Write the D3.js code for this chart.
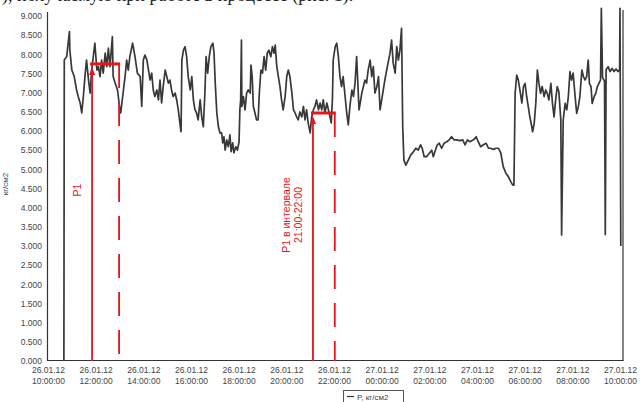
<!DOCTYPE html>
<html lang="ru">
<head>
<meta charset="UTF-8">
<title>P, кг/см2</title>
<script src="https://d3js.org/d3.v7.min.js"></script>
<style>
  body { margin: 0; background: #fff; }
  svg { display: block; font-family: "Liberation Sans", Arial, sans-serif; }
</style>
</head>
<body>
<script>
// pressure trace, minutes after 26.01.12 10:00:00
var minutes = [40,41,47,54,55,60,66,72,76,81,85,89,93,97,102,106,110,118,123,127,131,135,139,144,148,152,156,162,164,169,175,180,183,188,194,198,202,206,213,219,225,232,236,240,244,249,253,257,261,265,269,274,278,282,286,290,295,299,303,307,311,315,320,324,328,332,335,337,341,345,349,353,358,362,366,370,374,378,383,387,391,395,398,402,406,410,415,418,421,425,429,433,437,440,443,446,450,454,458,461,465,468,473,477,481,483,485,487,488,492,496,500,504,509,511,514,517,521,525,529,532,536,540,544,548,552,556,561,565,569,572,576,580,584,588,592,597,601,605,609,614,618,622,626,630,634,639,643,647,651,655,660,664,668,672,676,681,685,689,693,697,702,706,710,713,716,718,723,727,731,735,739,743,748,752,756,760,765,769,773,777,780,783,786,790,794,798,802,806,811,815,819,823,828,832,836,843,848,856,861,865,869,874,878,882,886,890,893,896,901,907,913,920,926,932,938,942,947,953,960,966,970,974,980,985,991,997,1004,1010,1016,1022,1029,1037,1044,1050,1056,1062,1071,1078,1083,1089,1096,1103,1109,1115,1121,1128,1134,1140,1146,1153,1159,1165,1170,1173,1176,1180,1184,1188,1193,1197,1201,1205,1209,1213,1218,1220,1224,1228,1232,1236,1240,1244,1249,1253,1257,1261,1266,1270,1274,1278,1282,1286,1291,1293,1297,1302,1306,1310,1314,1318,1322,1327,1331,1335,1339,1344,1348,1352,1356,1360,1363,1367,1370,1375,1379,1383,1387,1391,1393,1396,1401,1403,1405,1410,1415,1420,1425,1430,1435,1439,1440,1442];
var pressure = [0,7.85,7.94,8.59,8.11,7.59,7.42,7.07,6.9,6.73,6.47,6.9,7.42,7.85,7.33,6.99,7.59,8.29,7.59,7.68,7.42,7.85,7.51,8.03,7.68,8.16,7.68,8.46,7.42,7.25,7.07,6.64,6.47,6.9,7.42,7.85,7.59,7.94,8.29,7.94,7.51,7.42,6.64,7.85,7.98,7.85,7.59,7.33,7.51,7.07,6.9,7.07,6.81,7.33,6.73,7.16,7.59,7.42,7.25,7.33,7.07,6.9,6.99,6.81,6.55,6.21,5.98,7.85,8.11,8.2,7.94,7.42,7.07,7.42,6.81,6.55,6.47,6.29,6.81,6.37,6.11,6.99,7.94,7.51,7.94,8.2,8.29,8.03,7.25,6.47,6.11,5.95,5.95,5.69,5.85,5.5,5.77,5.59,5.9,5.46,5.69,5.43,5.59,5.5,5.72,6.55,6.81,8.37,6.64,6.9,6.55,6.99,7.07,6.99,7.72,7.42,6.64,6.47,6.29,6.29,6.99,7.59,7.51,7.94,7.59,8.03,8.11,7.94,8.2,8.03,8.24,7.68,7.42,7.16,6.81,6.55,6.9,7.42,7.59,7.42,6.99,6.55,6.47,6.37,6.29,6.5,6.37,6.64,6.29,6.55,6.21,5.95,6.37,6.55,6.64,6.81,6.55,6.73,6.55,6.81,6.47,6.73,6.55,6.37,6.21,6.81,7.85,8.2,8.29,7.94,7.42,7.16,7.42,6.9,6.47,6.16,6.64,7.07,6.9,7.25,7.94,7.25,6.55,6.73,6.99,7.16,7.33,7.25,7.59,7.85,7.42,7.68,6.99,7.16,7.42,6.55,7.0,7.33,7.77,8.03,8.37,7.77,7.51,8.2,7.85,8.11,8.68,6.11,5.24,5.11,5.24,5.37,5.46,5.55,5.5,5.64,5.55,5.33,5.33,5.42,5.5,5.33,5.46,5.64,5.68,5.55,5.68,5.72,5.77,5.85,5.77,5.77,5.75,5.77,5.64,5.77,5.72,5.77,5.85,5.72,5.59,5.64,5.68,5.55,5.55,5.52,5.55,5.55,5.42,5.07,4.89,4.81,4.68,4.59,4.59,6.98,7.46,7.33,7.07,6.73,7.16,7.24,6.9,6.64,6.37,6.11,5.98,6.2,6.72,7.59,7.24,6.98,7.16,6.9,7.07,6.98,6.81,7.24,6.72,6.37,6.81,7.16,7.03,6.29,3.29,6.29,6.72,6.55,6.9,7.55,7.33,7.51,6.9,6.46,6.63,6.9,7.59,7.42,7.33,7.42,7.85,7.24,7.16,6.72,6.9,6.98,7.16,7.24,7.33,9.2,7.4,7.3,3.3,7.6,7.68,7.55,7.63,7.55,7.62,7.55,7.6,9.2,3.0];

var yTicks = [0,0.5,1,1.5,2,2.5,3,3.5,4,4.5,5,5.5,6,6.5,7,7.5,8,8.5,9];
var xTickDates = ["26.01.12","26.01.12","26.01.12","26.01.12","26.01.12","26.01.12","26.01.12","27.01.12","27.01.12","27.01.12","27.01.12","27.01.12","27.01.12"];
var xTickTimes = ["10:00:00","12:00:00","14:00:00","16:00:00","18:00:00","20:00:00","22:00:00","00:00:00","02:00:00","04:00:00","06:00:00","08:00:00","10:00:00"];

// red marks: P1 and P1 for 21:00-22:00 (minutes after start, level)
var markStart = [111, 667];
var markEnd = [179, 722];
var markLevel = [7.75, 6.47];
var markLabels = [["P1"], ["P1 в интервале", "21:00-22:00"]];

var width = 641, height = 402;
var red = "#e8141c";
var t0 = new Date(2012, 0, 26, 10, 0, 0);
function tm(m) { return d3.timeMinute.offset(t0, m); }

var svg = d3.select("body").append("svg")
    .attr("width", width)
    .attr("height", height);

var x = d3.scaleTime().domain([t0, d3.timeHour.offset(t0, 24)]).range([48, 620]);
var y = d3.scaleLinear().domain([0, 9]).range([361, 16]);

// cut-off line of text above the figure (only its lower part is in the picture)
svg.append("text")
    .attr("x", 2).attr("y", 1)
    .style("font-family", "'Liberation Serif', serif")
    .style("font-size", "18px")
    .attr("fill", "#222")
    .text("), получаемую при работе в процессе (рис. 1).");

// frame
var frame = svg.append("g").attr("stroke", "#333").attr("stroke-width", 1.2);
frame.append("line").attr("x1", 47.5).attr("x2", 47.5).attr("y1", 12).attr("y2", 361);
frame.append("line").attr("x1", 47).attr("x2", 623.5).attr("y1", 360.5).attr("y2", 360.5);
frame.append("line").attr("x1", 623).attr("x2", 623).attr("y1", 10).attr("y2", 361);

// y axis
var yAxis = svg.append("g")
    .attr("transform", "translate(48,0)")
    .call(d3.axisLeft(y).tickValues(yTicks).tickFormat(d3.format(".3f")).tickSize(0).tickPadding(6));
yAxis.select(".domain").remove();
yAxis.selectAll("text").attr("fill", "#444").style("font-size", "8.5px");

// x axis, two-line labels
var xAxis = svg.append("g")
    .attr("transform", "translate(0,361)")
    .call(d3.axisBottom(x)
        .tickValues(xTickDates.map(function (d, i) { return d3.timeHour.offset(t0, 2 * i); }))
        .tickSize(0).tickSizeOuter(0).tickFormat(""));
xAxis.select(".domain").remove();
xAxis.selectAll(".tick text").each(function (d, i) {
    var t = d3.select(this).text(null).attr("dy", null).attr("fill", "#444").style("font-size", "8.5px");
    t.append("tspan").attr("x", 0).attr("y", 12).text(xTickDates[i]);
    t.append("tspan").attr("x", 0).attr("y", 22.5).text(xTickTimes[i]);
});

svg.append("text")
    .attr("transform", "translate(8,184) rotate(-90)")
    .attr("text-anchor", "middle")
    .attr("fill", "#444")
    .style("font-size", "8px")
    .text("кг/см2");

// pressure line
var line = d3.line()
    .x(function (d, i) { return x(tm(minutes[i])); })
    .y(function (d) { return y(d); });

svg.append("path")
    .datum(pressure)
    .attr("fill", "none")
    .attr("stroke", "#383838")
    .attr("stroke-width", 1.7)
    .attr("stroke-linejoin", "round")
    .attr("d", line);

// red annotations
markStart.forEach(function (s, k) {
    var x1 = x(tm(s)), x2 = x(tm(markEnd[k])), yl = y(markLevel[k]);
    var g = svg.append("g");
    g.append("line")
        .attr("x1", x1).attr("x2", x1)
        .attr("y1", y(0)).attr("y2", yl + 9)
        .attr("stroke", red).attr("stroke-width", 1.8);
    g.append("path")
        .attr("d", "M" + (x1 - 3) + "," + (yl + 11) + "L" + x1 + "," + (yl + 3) + "L" + (x1 + 3) + "," + (yl + 11) + "Z")
        .attr("fill", red);
    g.append("line")
        .attr("x1", x1 - 2).attr("x2", x2 + 1)
        .attr("y1", yl).attr("y2", yl)
        .attr("stroke", red).attr("stroke-width", 3);
    g.append("line")
        .attr("x1", x2).attr("x2", x2)
        .attr("y1", yl).attr("y2", y(0))
        .attr("stroke", red).attr("stroke-width", 1.8)
        .attr("stroke-dasharray", "24,14");

    var labels = markLabels[k];
    labels.forEach(function (txt, j) {
        var bx = x1 - 11 - (labels.length - 1 - j) * 12;
        g.append("text")
            .attr("transform", "translate(" + bx + "," + (k === 0 ? 190 : 215) + ") rotate(-90)")
            .attr("text-anchor", "middle")
            .attr("fill", red)
            .style("font-size", "10.5px")
            .text(txt);
    });
});

// legend
var lg = svg.append("g");
lg.append("rect")
    .attr("x", 343.5).attr("y", 390.5).attr("width", 60).attr("height", 20)
    .attr("fill", "none").attr("stroke", "#555");
lg.append("line")
    .attr("x1", 347).attr("x2", 354).attr("y1", 396.5).attr("y2", 396.5)
    .attr("stroke", "#333").attr("stroke-width", 1.2);
lg.append("text")
    .attr("x", 357).attr("y", 399.5)
    .attr("fill", "#444")
    .style("font-size", "8px")
    .text("P, кг/см2");
</script>
</body>
</html>
